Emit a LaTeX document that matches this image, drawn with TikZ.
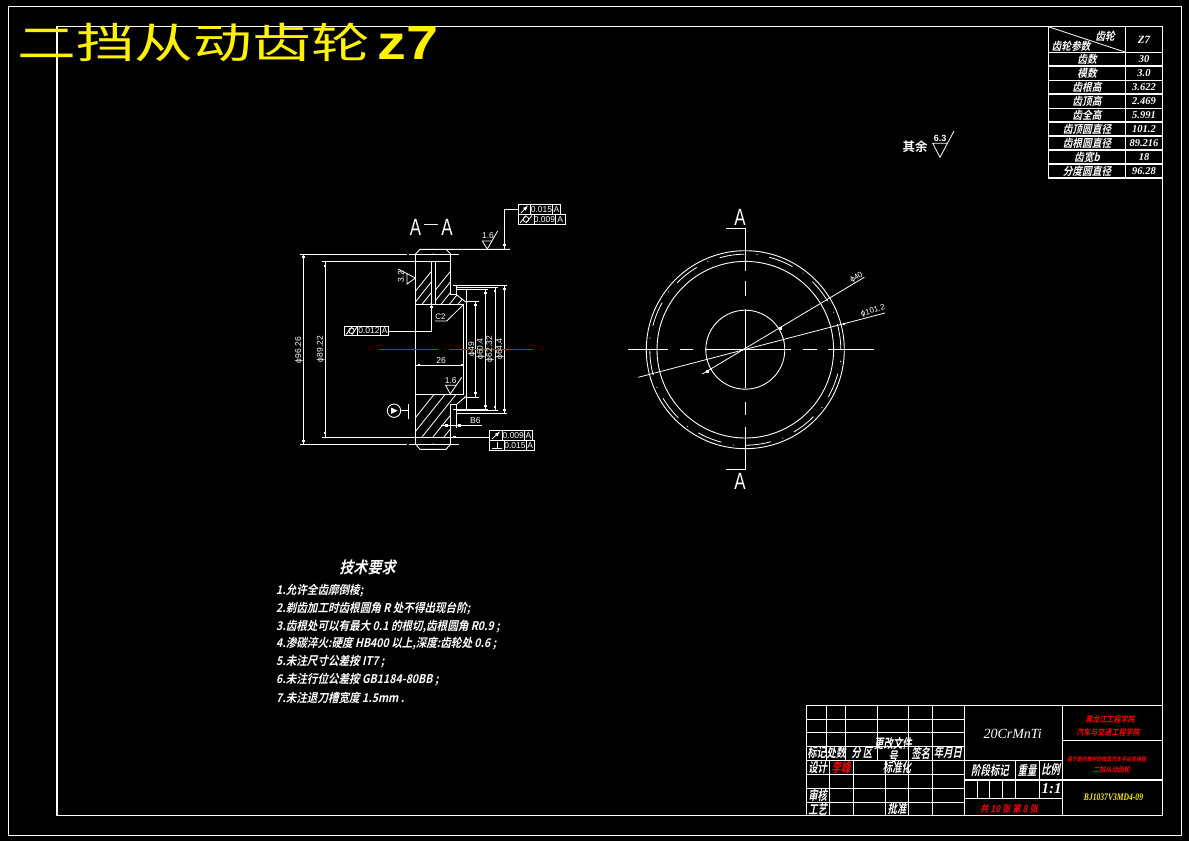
\documentclass[tikz,border=0pt]{standalone}
\usepackage{fontspec}
\setmainfont{Liberation Sans}
\newfontfamily\cjkplain{Noto Sans CJK SC}
\newfontfamily\cjkit[FakeSlant=0.22,FakeStretch=0.88]{Noto Sans CJK SC}
\newfontfamily\cjkbf[FakeSlant=0.22,FakeStretch=0.88]{Noto Sans CJK SC Bold}
\newfontfamily\cjkup{Noto Sans CJK SC Bold}
\newfontfamily\latit{Liberation Serif Italic}
\newfontfamily\latbi{Liberation Serif Bold Italic}
\newfontfamily\latbf{Liberation Sans Bold}
\newcommand{\sz}[1]{\fontsize{#1}{#1}\selectfont}
\tikzset{
  cad/.style={draw=white,line width=0.9pt},
  frameline/.style={draw=white,line width=1.1pt},
  thin cad/.style={draw=white,line width=0.8pt},
  lbl/.style={text=white,inner sep=0pt,font=\sz{8.5}},
  cn/.style={text=white,inner sep=0pt,font=\cjkbf\sz{11}},
  blk/.style={text=white,inner sep=0pt,xscale=0.82,font=\cjkbf\sz{13}},
  cnred/.style={text=red,inner sep=0pt,font=\cjkbf\sz{8}},
  val/.style={text=white,inner sep=0pt,font=\latbi\sz{10.5}},
  req/.style={text=white,inner sep=0pt,anchor=west,font=\cjkbf\sz{12}},
  bigA/.style={text=white,inner sep=0pt,xscale=0.72,font=\sz{23.5}},
  tick/.style={fill=white,draw=none,minimum size=2.6pt,inner sep=0pt,shape=rectangle},
}
\begin{document}
\begin{tikzpicture}[x=1pt,y=-1pt]
\useasboundingbox (0,0) rectangle (1189,841);
\fill[black] (0,0) rectangle (1189,841);

% sheet frames
\draw[cad] (8.3,6) rectangle (1181,835);
\draw[frameline] (57,26.7) rectangle (1162.3,815.3);

% title
\node[text=yellow,inner sep=0pt,anchor=west,xscale=1.4,font=\cjkplain\sz{42}] (title) at (17,42) {二挡从动齿轮};
\node[text=yellow,inner sep=0pt,anchor=west,xscale=1.2,font=\latbf\sz{48}] (titlez) at (377,43) {z7};

% parameter table
\draw[frameline] (1048.3,26.7) -- (1048.3,178) -- (1162.3,178);
\draw[frameline] (1125.7,26.7) -- (1125.7,178);
\foreach \yy in {52.3,66,80.3,94,108.3,122,136,150,164}
  \draw[frameline] (1048.3,\yy) -- (1162.3,\yy);
\draw[thin cad] (1048.3,26.7) -- (1125.7,52.3);
\node[cn] (th1) at (1105,36) {齿轮};
\node[cn] (th2) at (1071,46) {齿轮参数};
\node[val,font=\latbi\sz{11}] (th3) at (1144,40) {Z7};
\foreach \nm/\yy/\a/\b in {r1/59/齿数/30,r2/73/模数/3.0,r3/87/齿根高/3.622,r4/101/齿顶高/2.469,r5/115/齿全高/5.991,r6/129/齿顶圆直径/101.2,r7/143/齿根圆直径/89.216,r8/157/齿宽b/18,r9/171/分度圆直径/96.28}{
  \node[cn] (\nm a) at (1087,\yy) {\a};
  \node[val] (\nm b) at (1144,\yy) {\b};
}

% roughness, remainder
\node[text=white,inner sep=0pt,font=\cjkup\sz{12.5}] (other) at (915,147) {其余};
\draw[thin cad] (948,143.3) -- (932.7,143.3) -- (940,157.3) -- (954,131);
\node[lbl,font=\latbf\sz{9}] (ra) at (940,138) {6.3};

% section view: outline
\draw[cad] (415.5,254) -- (420,249.3) -- (510,249.3);
\draw[cad] (446,249.3) -- (450.7,254);
\draw[cad] (415.5,444) -- (420,449.3) -- (446,449.3) -- (450.7,444);
\draw[cad] (415.5,254) -- (415.5,444);
\draw[cad] (450.7,254) -- (450.7,294.3) -- (456,294.3) -- (456,285.7);
\draw[cad] (450.7,444) -- (450.7,404.3) -- (456.7,404.3) -- (456.7,427.7);
\draw[cad] (456,294.3) -- (465.7,302);
\draw[cad] (456.7,404.3) -- (465.7,396.7);
\draw[cad] (415.5,304.3) -- (463.5,304.3);
\draw[cad] (415.5,394) -- (463.5,394);
\draw[cad] (463.5,304.3) -- (463.5,394);
\draw[cad] (466,289) -- (466,409);
\draw[cad] (431.7,261) -- (431.7,304.3);
\draw[cad] (435,261) -- (435,304.3);

% hatching
\begin{scope}
  \clip (415.5,261) rectangle (431.7,304.3);
  \foreach \i in {0,...,8}
    \draw[thin cad] (405+8.5*\i,304.3) -- ++(36,-45);
\end{scope}
\begin{scope}
  \clip (435,261) -- (450.7,261) -- (450.7,294.3) -- (456,294.3) -- (465.7,302) -- (463.5,304.3) -- (435,304.3) -- cycle;
  \foreach \i in {0,...,8}
    \draw[thin cad] (424+8.5*\i,304.3) -- ++(36,-45);
\end{scope}
\begin{scope}
  \clip (415.5,394) -- (463.5,394) -- (465.7,396.7) -- (456.7,404.3) -- (450.7,404.3) -- (450.7,437) -- (415.5,437) -- cycle;
  \foreach \i in {0,...,7}
    \draw[thin cad] (400+11*\i,437) -- ++(36,-45);
\end{scope}

% extension and dimension lines
\draw[cad] (300,254) -- (407,254);
\draw[cad] (408.5,254) -- (459,254);
\draw[cad] (300,444) -- (407,444);
\draw[cad] (408.5,444) -- (459,444);
\draw[cad] (322,261) -- (450.7,261);
\draw[cad] (322,437) -- (489.3,437);
\draw[cad] (303.3,254) -- (303.3,444);
\draw[cad] (325,261) -- (325,437);
\draw[cad] (453,285.7) -- (507,285.7);
\draw[cad] (456,287.7) -- (498,287.7);
\draw[cad] (457,289) -- (487.5,289);
\draw[cad] (466,301) -- (479,301);
\draw[cad] (466,397) -- (479,397);
\draw[cad] (453,409) -- (487.5,409);
\draw[cad] (456,410.3) -- (498,410.3);
\draw[cad] (456.7,413) -- (507,413);
\draw[cad] (475.3,301) -- (475.3,397);
\draw[cad] (485.3,289) -- (485.3,409);
\draw[cad] (495,287.7) -- (495,410.3);
\draw[cad] (504.3,285.7) -- (504.3,413);
\draw[cad] (415.5,365) -- (463.5,365);
\draw[cad] (441.3,425.3) -- (481.7,425.3);
\foreach \px/\py in {303.3/257,303.3/441,325/266,325/433,475.3/305,475.3/393,485.3/293,485.3/406,495/291,495/407,504.3/289,504.3/410,419/365,462/365,446.7/425.3,459.3/425.3,454.3/437,431.7/307,504.3/245}
  \node[tick] at (\px,\py) {};
\fill[white] (433,254) circle[radius=0.6];
\fill[white] (433,444) circle[radius=0.6];

% centre line of the section
\draw[draw=red,line width=0.9pt] (379,349.3) -- (437.7,349.3);
\draw[draw=red,line width=0.9pt] (449,349.3) -- (533,349.3);

% dimension texts
\node[lbl,rotate=90] (d1) at (299,350) {ϕ96.26};
\node[lbl,rotate=90] (d2) at (320.7,349) {ϕ89.22};
\node[lbl,rotate=90] (d3) at (472,349) {ϕ49};
\node[lbl,rotate=90] (d4) at (480.7,349) {ϕ60.4};
\node[lbl,rotate=90] (d5) at (490,349) {ϕ62.32};
\node[lbl,rotate=90] (d6) at (500,349) {ϕ64.4};
\node[lbl] (d7) at (441,361) {26};
\node[lbl] (d8) at (475.3,421) {B6};

% chamfer label
\coordinate (cha) at (463,305);
\coordinate (chb) at (446.7,321);
\coordinate (chc) at (435,321);
\draw[thin cad] (cha) -- (chb) -- (chc);
\node[lbl,font=\sz{8}] (c2) at (440.5,316.5) {C2};

% section title
\node[bigA] (sa1) at (415.5,227.5) {A};
\node[text=white,inner sep=0pt,font=\sz{14}] (sa2) at (431.2,226) {—};
\node[bigA] (sa3) at (447,227.5) {A};

% roughness symbols on the section
\draw[thin cad] (492,241) -- (482.3,241) -- (487.3,249) -- (497.7,231);
\node[lbl] (r16a) at (488,236) {1.6};
\draw[thin cad] (456,385.3) -- (445.7,385.3) -- (450.3,394) -- (461.7,377.3);
\node[lbl] (r16b) at (450.7,381) {1.6};
\draw[thin cad] (398,269) -- (415.5,278) -- (407,284) -- (407,273);
\node[lbl,rotate=90] (r32) at (401,277) {3.2};

% datum symbol
\node[draw=white,circle,minimum size=13.4pt,inner sep=0pt,line width=0.9pt] (datum) at (394,410.7) {};
\fill[white] (391,407.5) -- (397.5,410.7) -- (391,414) -- cycle;
\draw[cad] (datum.east) -- (408.3,410.7);
\draw[draw=white,line width=1.4pt] (408.3,404) -- (408.3,419);

% feature control frames
\draw[cad] (518.3,204.3) rectangle (560.7,214.3);
\draw[cad] (530.7,204.3) -- (530.7,214.3);
\draw[cad] (552.3,204.3) -- (552.3,214.3);
\draw[cad] (518.3,214.3) rectangle (565,224.3);
\draw[cad] (534,214.3) -- (534,224.3);
\draw[cad] (555.3,214.3) -- (555.3,224.3);
\draw[cad] (518.3,209.3) -- (504.3,209.3) -- (504.3,249.3);
\draw[thin cad,-latex] (521,213) -- (528,205.5);
\node[lbl] (f1) at (541.5,209.6) {0.015};
\node[lbl] (f2) at (556.5,209.6) {A};
\draw[thin cad] (520,223) -- (526,215.5) (526,223) -- (532,215.5);
\draw[thin cad] (526,219.3) circle[radius=2.8];
\node[lbl] (f3) at (544.5,219.6) {0.009};
\node[lbl] (f4) at (560.2,219.6) {A};

\draw[cad] (344.3,326) rectangle (388.7,335.3);
\draw[cad] (357.3,326) -- (357.3,335.3);
\draw[cad] (380.7,326) -- (380.7,335.3);
\draw[cad] (388.7,331) -- (431.7,331) -- (431.7,304.3);
\draw[thin cad] (346,334.5) -- (352,327) (352,334.5) -- (357,327);
\draw[thin cad] (351.5,330.7) circle[radius=2.8];
\node[lbl] (f5) at (369,330.8) {0.012};
\node[lbl] (f6) at (384.7,330.8) {A};

\draw[cad] (489.3,430.3) rectangle (532.7,440.3);
\draw[cad] (502.3,430.3) -- (502.3,440.3);
\draw[cad] (524.3,430.3) -- (524.3,440.3);
\draw[cad] (489.3,440.3) rectangle (534.7,450.3);
\draw[cad] (504,440.3) -- (504,450.3);
\draw[cad] (526,440.3) -- (526,450.3);
\draw[thin cad,-latex] (492,439) -- (500,431.5);
\node[lbl] (f7) at (513.3,435.6) {0.009};
\node[lbl] (f8) at (528.5,435.6) {A};
\draw[thin cad] (492,448.5) -- (502,448.5) (497,442) -- (497,448.5);
\node[lbl] (f9) at (515,445.6) {0.015};
\node[lbl] (f10) at (530.3,445.6) {A};

% front view
\coordinate (c) at (745.3,349.7);
\draw[cad] (c) circle[radius=99];
\draw[cad] (c) circle[radius=88.3];
\draw[cad] (c) circle[radius=39.5];
\foreach \a in {8,38,...,338}{
  \draw[thin cad] (c) ++(-\a-7.5:95.5) arc[start angle=-\a-7.5,end angle=-\a+7.5,radius=95.5];
  \fill[white] (c) ++(-\a-15:96) circle[radius=0.6];
}
\draw[cad] (628,349.7) -- (668,349.7) (680,349.7) -- (693.3,349.7) (705,349.7) -- (790.7,349.7) (803.3,349.7) -- (816.7,349.7) (828.3,349.7) -- (874.3,349.7);
\draw[cad] (726,228.3) -- (745.3,228.3) -- (745.3,270.7) (745.3,281) -- (745.3,296) (745.3,309) -- (745.3,388.3) (745.3,401.7) -- (745.3,415) (745.3,426.7) -- (745.3,469) -- (726,469);
\node[bigA] (va1) at (740,217.5) {A};
\node[bigA] (va2) at (740,481) {A};
\coordinate (l1a) at (702.3,374);
\coordinate (l1b) at (864.3,277.3);
\coordinate (l2a) at (638.3,377.3);
\coordinate (l2b) at (885,313);
\draw[thin cad] (l1a) -- (l1b);
\draw[thin cad] (l2a) -- (l2b);
\node[lbl,font=\sz{8},rotate=30] (v40) at (856.5,277.5) {ϕ40};
\node[lbl,font=\sz{8},rotate=15] (v101) at (873,311) {ϕ101.2};
\node[tick] at (780.7,328.5) {};
\node[tick] at (707.3,371.7) {};
\node[tick] at (844,323.8) {};

% technical requirements
\node[text=white,inner sep=0pt,font=\cjkbf\sz{16}] (rq) at (367.5,567) {技术要求};
\node[req] (q1) at (276,590.7) {1.允许全齿廓倒棱;};
\node[req] (q2) at (276,608.3) {2.剃齿加工时齿根圆角 R 处不得出现台阶;};
\node[req] (q3) at (276,626.7) {3.齿根处可以有最大 0.1 的根切,齿根圆角 R0.9 ;};
\node[req] (q4) at (276,644) {4.渗碳淬火:硬度 HB400 以上,深度:齿轮处 0.6 ;};
\node[req] (q5) at (276,662) {5.未注尺寸公差按 IT7 ;};
\node[req] (q6) at (276,680) {6.未注行位公差按 GB1184-80BB ;};
\node[req] (q7) at (276,698.3) {7.未注退刀槽宽度 1.5mm .};

% title block grid
\draw[frameline] (806.3,705.3) rectangle (1162.3,815.3);
\foreach \yy in {719.3,732.3,746.3,760.3,774.3,788.3,802.3}
  \draw[frameline] (806.3,\yy) -- (964.3,\yy);
\foreach \xx in {826.3,845.3,877.3}
  \draw[frameline] (\xx,705.3) -- (\xx,760.3);
\foreach \xx in {829.3,853.3,885.3}
  \draw[frameline] (\xx,760.3) -- (\xx,815.3);
\foreach \xx in {908.3,932.3}
  \draw[frameline] (\xx,705.3) -- (\xx,815.3);
\draw[frameline] (964.3,705.3) -- (964.3,815.3);
\draw[frameline] (1062.3,705.3) -- (1062.3,815.3);
\draw[frameline] (964.3,760.3) -- (1062.3,760.3);
\draw[frameline] (964.3,780) -- (1162.3,780);
\draw[frameline] (964.3,798.3) -- (1062.3,798.3);
\draw[frameline] (1062.3,740.3) -- (1162.3,740.3);
\foreach \xx in {1015.3,1039.3}
  \draw[frameline] (\xx,760.3) -- (\xx,798.3);
\foreach \xx in {977.3,989.3,1002.3}
  \draw[frameline] (\xx,780) -- (\xx,798.3);

% title block texts
\node[blk] (b1) at (816.7,753) {标记};
\node[blk] (b2) at (836,753) {处数};
\node[blk] (b3) at (861.7,753) {分 区};
\node[blk,align=center] (b4) at (893,749.5) {更改文件\\号};
\node[blk] (b5) at (920.7,753) {签名};
\node[blk] (b6) at (948,753) {年月日};
\node[blk] (b7) at (817.7,767.7) {设计};
\node[blk,text=red] (b8) at (841,767.7) {李峰};
\node[blk] (b9) at (897,767.7) {标准化};
\node[blk] (b10) at (817.7,795.7) {审核};
\node[blk] (b11) at (817.7,809) {工艺};
\node[blk] (b12) at (897,809) {批准};
\node[text=white,inner sep=0pt,font=\latit\sz{14}] (mat) at (1012.7,734.3) {20CrMnTi};
\node[blk] (b13) at (990,770) {阶段标记};
\node[blk] (b14) at (1027,770) {重量};
\node[blk] (b15) at (1050.7,770) {比例};
\node[text=white,inner sep=0pt,font=\latbi\sz{15}] (ratio) at (1051.7,789) {1:1};
\node[cnred,font=\cjkbf\sz{9.5}] (sheet) at (1009,808.7) {共 10 张 第 8 张};
\node[cnred] (s1) at (1110,719) {黑龙江工程学院};
\node[cnred] (s2) at (1108,732) {汽车与交通工程学院};
\node[cnred,font=\cjkbf\sz{5.6}] (s3) at (1106.5,759) {基于面向教学的微型汽车手动变速器};
\node[cnred,font=\cjkbf\sz{7}] (s4) at (1111.5,770) {二挡从动齿轮};
\node[text=yellow,inner sep=0pt,xscale=0.76,font=\latbi\sz{10}] (code) at (1113.5,797) {BJ1037V3MD4-09};
\end{tikzpicture}
\end{document}
